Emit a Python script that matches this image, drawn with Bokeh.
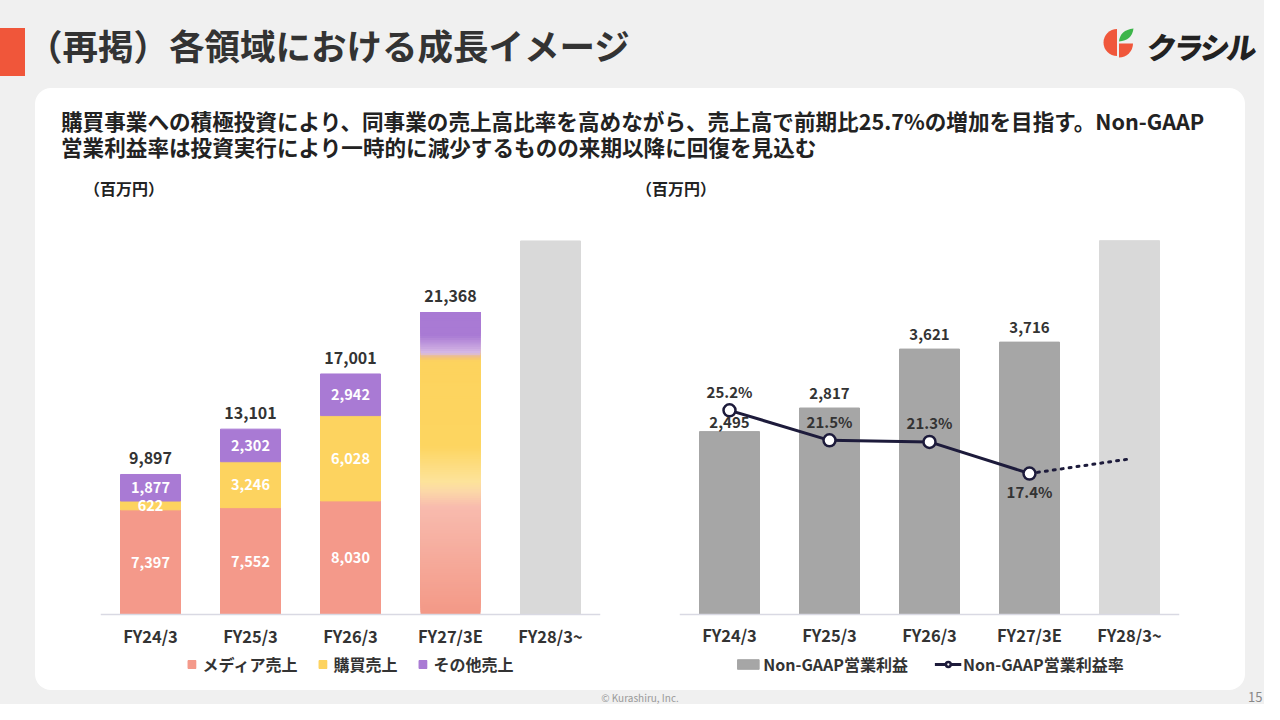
import numpy as np
from bokeh.plotting import figure
from bokeh.models import (ColumnDataSource, FactorRange, Range1d, Legend,
                          LegendItem, Div, Spacer)
from bokeh.layouts import column, row
from bokeh.core.properties import value
from bokeh.embed import file_html
from bokeh.resources import INLINE

FONT = "Noto Sans CJK JP"

# ---------------- data ----------------
categories = ["FY24/3", "FY25/3", "FY26/3", "FY27/3E", "FY28/3~"]
media_sales = [7397, 7552, 8030]          # メディア売上 (FY24-FY26)
purchase_sales = [622, 3246, 6028]        # 購買売上
other_sales = [1877, 2302, 2942]          # その他売上
total_sales = [9897, 13101, 17001, 21368] # totals FY24-FY27E
fy27_split = [8700, 9500, 3168]           # estimated split of FY27E (gradient bar)
future_sales = [26400]                    # FY28/3~ placeholder bar (unlabelled)

op_income = [2495, 2817, 3621, 3716]      # Non-GAAP営業利益
future_income = [5100]                    # FY28/3~ placeholder bar
op_margin = [25.2, 21.5, 21.3, 17.4]      # Non-GAAP営業利益率 (%)
margin_projection = [17.4, 19.2]          # dotted continuation FY27E -> FY28

C_MEDIA = "#F4998A"
C_PURCH = "#FDD35F"
C_OTHER = "#A97AD4"
C_GRAY = "#A6A6A6"
C_LIGHT = "#D9D9D9"
C_NAVY = "#1D1B3B"
C_TEXT = "#333333"


def base_fig(y_min, y_max, left, right):
    p = figure(x_range=FactorRange(factors=categories), y_range=Range1d(y_min, y_max),
               frame_width=500, frame_height=490, output_backend="svg",
               toolbar_location=None, title=None, y_axis_location=None,
               min_border_left=left, min_border_right=right,
               min_border_top=0, min_border_bottom=0)
    p.xgrid.visible = False
    p.ygrid.visible = False
    p.outline_line_color = None
    p.background_fill_color = "white"
    p.border_fill_alpha = 0
    ax = p.xaxis[0]
    ax.fixed_location = 0
    ax.axis_line_color = "#D9D9E3"
    ax.axis_line_width = 1.5
    ax.major_tick_line_color = None
    ax.minor_tick_line_color = None
    ax.major_tick_in = 0
    ax.major_tick_out = 0
    ax.major_label_text_font = FONT
    ax.major_label_text_font_size = "16.5px"
    ax.major_label_text_font_style = "bold"
    ax.major_label_text_color = C_TEXT
    ax.major_label_standoff = 9
    return p


def style_legend(leg, gw, gh, standoff, spacing):
    leg.orientation = "horizontal"
    leg.location = "bottom_center"
    leg.glyph_width = gw
    leg.glyph_height = gh
    leg.label_standoff = standoff
    leg.spacing = spacing
    leg.margin = 14
    leg.padding = 5
    leg.border_line_color = None
    leg.background_fill_alpha = 0
    leg.label_text_font = FONT
    leg.label_text_font_size = "16px"
    leg.label_text_font_style = "bold"
    leg.label_text_color = C_TEXT
    leg.label_height = 20


# ---------------- left chart: sales ----------------
p1 = base_fig(-5371, 29260, 65, 40)
src = ColumnDataSource(dict(cat=categories[:3], media=media_sales,
                            purchase=purchase_sales, other=other_sales))
stack = p1.vbar_stack(["media", "purchase", "other"], x="cat", width=0.6,
                      color=[C_MEDIA, C_PURCH, C_OTHER], source=src)

# FY27E gradient bar, derived from the estimated split
b1 = fy27_split[0]
b2 = b1 + fy27_split[1]
t27 = total_sales[3]
stops = [(0, "#F39886"), (b1 - 1100, "#F8BBAE"), (b1, "#FCD8A8"), (b1 + 700, "#FDE39A"),
         (b1 + 3200, "#FDD560"), (b2 - 300, "#FDD35E"), (b2, "#F1C07C"),
         (b2 + 250, "#D8BBE6"), (b2 + 1500, "#A97AD4"), (t27, "#A97AD4")]


def hex2rgb(h):
    return np.array([int(h[i:i + 2], 16) for i in (1, 3, 5)], dtype=float)


def interp(v):
    for (v0, c0), (v1, c1) in zip(stops[:-1], stops[1:]):
        if v0 <= v <= v1:
            f = 0 if v1 == v0 else (v - v0) / (v1 - v0)
            c = hex2rgb(c0) * (1 - f) + hex2rgb(c1) * f
            return "#%02x%02x%02x" % tuple(int(round(x)) for x in c)
    return stops[-1][1]


# each slice spans from its own bottom to the bar top and is painted over the
# previous one, so no seams appear between slices
n_slices = 140
edges = np.linspace(0, t27, n_slices + 1)
slice_cols = [interp(m) for m in (edges[:-1] + edges[1:]) / 2]
p1.vbar(x=[categories[3]] * n_slices, bottom=edges[:-1], top=[t27] * n_slices, width=0.6,
        fill_color=slice_cols, line_color=None)

p1.vbar(x=[categories[4]], top=future_sales, width=0.6, color=C_LIGHT)

seg_x, seg_y, seg_t = [], [], []
for i, c in enumerate(categories[:3]):
    base = 0
    for v in (media_sales[i], purchase_sales[i], other_sales[i]):
        seg_x.append(c)
        seg_y.append(base + v / 2)
        seg_t.append(f"{v:,}")
        base += v
p1.text(x=seg_x, y=seg_y, text=seg_t, text_align="center", text_baseline="middle",
        text_color="white", text_font=value(FONT), text_font_size="14.5px",
        text_font_style="bold")
p1.text(x=categories[:4], y=total_sales, text=[f"{v:,}" for v in total_sales],
        y_offset=-16, text_align="center", text_baseline="middle", text_color=C_TEXT,
        text_font=value(FONT), text_font_size="16px", text_font_style="bold")

leg1 = Legend(items=[LegendItem(label="メディア売上", renderers=[stack[0]]),
                     LegendItem(label="購買売上", renderers=[stack[1]]),
                     LegendItem(label="その他売上", renderers=[stack[2]])])
style_legend(leg1, 10, 10, 6, 20)
p1.add_layout(leg1)

# ---------------- right chart: Non-GAAP operating income ----------------
p2 = base_fig(-1037, 5648, 39, 66)
p2.extra_y_ranges = {"pct": Range1d(-9.38, 51.1)}
bars = p2.vbar(x=categories[:4], top=op_income, width=0.6, color=C_GRAY)
p2.vbar(x=[categories[4]], top=future_income, width=0.6, color=C_LIGHT)
p2.line(x=categories[3:5], y=margin_projection, y_range_name="pct", line_dash="2 6",
        line_width=3, line_cap="round", color=C_NAVY)
ln = p2.line(x=categories[:4], y=op_margin, y_range_name="pct", line_width=3, color=C_NAVY)
pts = p2.scatter(x=categories[:4], y=op_margin, y_range_name="pct", size=12,
                 fill_color="white", line_color=C_NAVY, line_width=2.5)

inc_src = ColumnDataSource(dict(x=categories[:4], y=op_income,
                                t=[f"{v:,}" for v in op_income], off=[-9, -15, -15, -15]))
p2.text(x="x", y="y", text="t", y_offset="off", source=inc_src, text_align="center",
        text_baseline="middle", text_color=C_TEXT, text_font=value(FONT),
        text_font_size="15px", text_font_style="bold")
pct_src = ColumnDataSource(dict(x=categories[:4], y=op_margin,
                                t=[f"{v:.1f}%" for v in op_margin], off=[-19, -19, -19, 18]))
p2.text(x="x", y="y", text="t", y_offset="off", source=pct_src, y_range_name="pct",
        text_align="center", text_baseline="middle", text_color=C_TEXT,
        text_font=value(FONT), text_font_size="15px", text_font_style="bold")

leg2 = Legend(items=[LegendItem(label="Non-GAAP営業利益", renderers=[bars]),
                     LegendItem(label="Non-GAAP営業利益率", renderers=[ln, pts])])
style_legend(leg2, 27, 12, 2, 26)
p2.add_layout(leg2)

# ---------------- slide furniture ----------------
logo_svg = (
    '<svg width="44" height="44" viewBox="0 0 44 44" style="position:absolute;left:1100px;top:25px;">'
    '<path d="M17,4 A13.5,13.5 0 0,0 17,31 Z" fill="#F0573B"/>'
    '<path d="M19,18.5 L33,18.5 A14,14 0 0,1 19,32.5 Z" fill="#F0573B"/>'
    '<path d="M19,16.5 Q20,5 33.5,3.5 Q32,15.5 19,16.5 Z" fill="#3DB54A"/>'
    '</svg>')

header = Div(width=1264, height=88, margin=0, text=(
    f'<div style="position:relative;width:1264px;height:88px;font-family:\'{FONT}\';">'
    '<div style="position:absolute;left:0px;top:28px;width:25px;height:48px;background:#F0563A;"></div>'
    '<div style="position:absolute;left:27px;top:24px;font-size:35.5px;font-weight:700;'
    'color:#333333;line-height:42px;white-space:nowrap;">（再掲）各領域における成長イメージ</div>'
    + logo_svg +
    '<div style="position:absolute;left:1147px;top:26px;font-size:30px;font-weight:900;'
    'color:#222222;line-height:40px;white-space:nowrap;letter-spacing:-3px;'
    'transform:skewX(-8deg);">クラシル</div>'
    '</div>'))

panel_top = Div(width=1210, height=112, margin=0, text=(
    f'<div style="position:relative;width:1210px;height:112px;font-family:\'{FONT}\';color:#222222;">'
    '<div style="position:absolute;left:26px;top:20px;font-size:21.6px;font-weight:700;'
    'line-height:25px;white-space:nowrap;">'
    '購買事業への積極投資により、同事業の売上高比率を高めながら、売上高で前期比25.7%の増加を目指す。Non-GAAP</div>'
    '<div style="position:absolute;left:26px;top:46px;font-size:21.6px;font-weight:700;'
    'line-height:25px;white-space:nowrap;">'
    '営業利益率は投資実行により一時的に減少するものの来期以降に回復を見込む</div>'
    '<div style="position:absolute;left:49px;top:90px;font-size:16px;font-weight:700;'
    'line-height:20px;white-space:nowrap;">（百万円）</div>'
    '<div style="position:absolute;left:601px;top:90px;font-size:16px;font-weight:700;'
    'line-height:20px;white-space:nowrap;">（百万円）</div>'
    '</div>'))

panel = column(panel_top, row(p1, p2, spacing=0), width=1210, height=602, spacing=0,
               styles={"background-color": "white", "border-radius": "16px"})

footer = Div(width=1264, height=14, margin=0, text=(
    f'<div style="position:relative;width:1264px;height:14px;font-family:\'{FONT}\';">'
    '<div style="position:absolute;left:540px;width:200px;text-align:center;top:2px;'
    'font-size:10px;line-height:11px;color:#999999;">© Kurashiru, Inc.</div>'
    '<div style="position:absolute;left:1248px;top:0px;font-size:13px;line-height:14px;'
    'color:#888888;">15</div>'
    '</div>'))

mid = row(Spacer(width=35, height=602), panel, Spacer(width=19, height=602), spacing=0)
root = column(header, mid, footer, width=1264, height=704, spacing=0,
              styles={"background-color": "#F0F0F0"})

open("out.html", "w").write(file_html(root, INLINE))
